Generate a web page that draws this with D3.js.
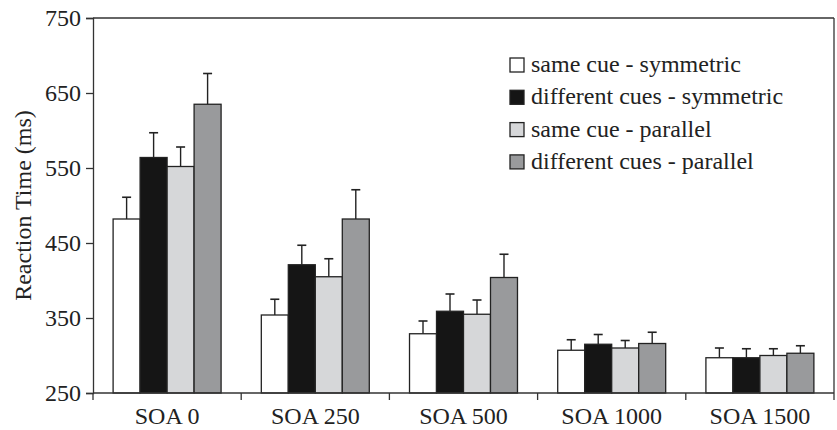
<!DOCTYPE html>
<html>
<head>
<meta charset="utf-8">
<script src="https://cdn.jsdelivr.net/npm/d3@7"></script>
<style>
  body { margin: 0; background: #fff; }
  text { font-family: "Liberation Serif", "Times New Roman", serif; fill: #222; }
</style>
</head>
<body>
<svg id="chart" width="837" height="430"></svg>
<script>
// data
var categories = ["SOA 0", "SOA 250", "SOA 500", "SOA 1000", "SOA 1500"];
var seriesNames = ["same cue - symmetric", "different cues - symmetric", "same cue - parallel", "different cues - parallel"];
var seriesColors = ["#ffffff", "#151515", "#d6d7d9", "#999a9c"];
// means per series, one value per SOA
var sameSym = [482, 354, 329, 307, 297];
var diffSym = [564, 421, 359, 315, 297];
var samePar = [552, 405, 355, 310, 300];
var diffPar = [635, 482, 404, 316, 303];
// error bar sizes (upper only)
var sameSymErr = [29, 21, 17, 14, 13];
var diffSymErr = [33, 26, 23, 13, 12];
var sameParErr = [26, 24, 19, 10, 9];
var diffParErr = [41, 39, 31, 15, 10];
var yTicks = [250, 350, 450, 550, 650, 750];

function drawChart(){
  var means = [sameSym, diffSym, samePar, diffPar];
  var errs = [sameSymErr, diffSymErr, sameParErr, diffParErr];

  var svg = d3.select("#chart");
  // plot box (window.top is reserved, so own names here)
  var pLeft = 93, pRight = 834, pTop = 18, pBottom = 393;

  var x = d3.scaleBand().domain(categories).range([pLeft, pRight]).paddingInner(0).paddingOuter(0);
  // 4 bars of ~27px centred in each 148px band
  var x1 = d3.scaleBand().domain(d3.range(seriesNames.length)).range([0, x.bandwidth()]).paddingOuter(0.745).paddingInner(0);
  var y = d3.scaleLinear().domain([250, 750]).range([pBottom, pTop]);

  // frame top + right
  svg.append("line").attr("x1", pLeft).attr("x2", pRight).attr("y1", pTop).attr("y2", pTop)
    .attr("stroke", "#333").attr("stroke-width", 1.3);
  svg.append("line").attr("x1", pRight).attr("x2", pRight).attr("y1", pTop).attr("y2", pBottom)
    .attr("stroke", "#333").attr("stroke-width", 1.3);

  // bars
  var groups = svg.selectAll("g.cat").data(categories).enter().append("g")
    .attr("class", "cat")
    .attr("transform", function(d){ return "translate(" + x(d) + ",0)"; });

  groups.each(function(cat, ci){
    var g = d3.select(this);
    for (var s = 0; s < seriesNames.length; s++){
      var v = means[s][ci], e = errs[s][ci];
      var bx = x1(s), bw = x1.bandwidth(), cx = bx + bw / 2;
      // error bar first so the bar outline sits on top
      g.append("line").attr("x1", cx).attr("x2", cx).attr("y1", y(v)).attr("y2", y(v + e))
        .attr("stroke", "#222").attr("stroke-width", 1.4);
      g.append("line").attr("x1", cx - 4.5).attr("x2", cx + 4.5).attr("y1", y(v + e)).attr("y2", y(v + e))
        .attr("stroke", "#222").attr("stroke-width", 1.6);
      g.append("rect").attr("x", bx).attr("y", y(v)).attr("width", bw).attr("height", y(250) - y(v))
        .attr("fill", seriesColors[s]).attr("stroke", "#222").attr("stroke-width", 1.3);
    }
  });

  // y axis
  var yAxis = svg.append("g").attr("transform", "translate(" + pLeft + ",0)")
    .call(d3.axisLeft(y).tickValues(yTicks).tickSize(7).tickPadding(5).tickFormat(d3.format("d")));
  yAxis.select(".domain").attr("stroke", "#333").attr("stroke-width", 1.3);
  yAxis.selectAll(".tick line").attr("stroke", "#333").attr("stroke-width", 1.3);
  yAxis.selectAll("text").style("font-size", "24px").style("font-family", "Liberation Serif, serif").attr("fill", "#222");

  // x axis: ticks sit between the categories
  var xAxis = svg.append("g").attr("transform", "translate(0," + pBottom + ")");
  xAxis.append("line").attr("x1", pLeft).attr("x2", pRight).attr("y1", 0).attr("y2", 0)
    .attr("stroke", "#333").attr("stroke-width", 1.3);
  var edges = categories.map(function(c){ return x(c); }).concat([pRight]);
  xAxis.selectAll("line.tk").data(edges).enter().append("line").attr("class", "tk")
    .attr("x1", function(d){ return d; }).attr("x2", function(d){ return d; })
    .attr("y1", 0).attr("y2", 7).attr("stroke", "#333").attr("stroke-width", 1.3);
  xAxis.selectAll("text").data(categories).enter().append("text")
    .attr("x", function(d){ return x(d) + x.bandwidth() / 2; })
    .attr("y", 31).attr("text-anchor", "middle").style("font-size", "24px").text(function(d){ return d; });

  // y title
  svg.append("text").attr("transform", "translate(31," + ((pTop + pBottom) / 2) + ") rotate(-90)")
    .attr("text-anchor", "middle").style("font-size", "24px").text("Reaction Time (ms)");

  // legend
  var legend = svg.append("g").attr("transform", "translate(510,58)");
  seriesNames.forEach(function(name, i){
    var row = legend.append("g").attr("transform", "translate(0," + (i * 32.3) + ")");
    row.append("rect").attr("x", 0).attr("y", 0).attr("width", 14).attr("height", 14)
      .attr("fill", seriesColors[i]).attr("stroke", "#222").attr("stroke-width", 1.3);
    row.append("text").attr("x", 21).attr("y", 14).style("font-size", "24px").text(name);
  });
}

drawChart();
</script>
</body>
</html>
